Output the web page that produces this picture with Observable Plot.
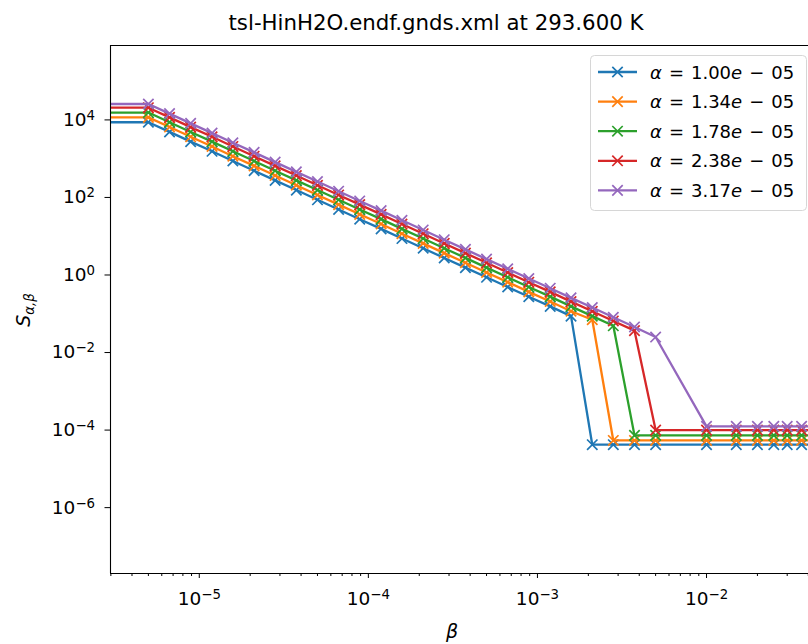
<!DOCTYPE html>
<html><head><meta charset="utf-8">
<script src="https://cdn.jsdelivr.net/npm/d3@7"></script>
<script src="https://cdn.jsdelivr.net/npm/@observablehq/plot@0.6"></script>
<style>
body{margin:0;background:#fff;}
#wrap{position:relative;width:808px;height:644px;overflow:hidden;background:#fff;}
</style></head><body><div id="wrap"></div>
<script>
// beta grid (0 first; log spaced then linear tail)
const beta = [0, 5.00e-6, 6.67e-6, 8.89e-6, 1.19e-5, 1.58e-5, 2.11e-5, 2.81e-5, 3.75e-5,
  5.00e-5, 6.67e-5, 8.89e-5, 1.19e-4, 1.58e-4, 2.11e-4, 2.81e-4, 3.75e-4,
  5.00e-4, 6.67e-4, 8.89e-4, 1.19e-3, 1.58e-3, 2.11e-3, 2.81e-3, 3.75e-3, 5.00e-3,
  0.010, 0.015, 0.020, 0.025, 0.030, 0.0365, 0.045, 0.055];
const alphaLabels = ["1.00", "1.34", "1.78", "2.38", "3.17"];
const colors = ["#1f77b4", "#ff7f0e", "#2ca02c", "#d62728", "#9467bd"];
const sA1 = [8710, 8710, 4900, 2750, 1550, 871, 490, 275, 155, 87.1, 49.0, 27.5, 15.5, 8.71, 4.90, 2.75, 1.55,
  0.871, 0.490, 0.275, 0.155, 0.0871, 4.2e-5, 4.2e-5, 4.2e-5, 4.2e-5,
  4.2e-5, 4.2e-5, 4.2e-5, 4.2e-5, 4.2e-5, 4.2e-5, 4.2e-5, 4.2e-5];
const sA2 = [11600, 11600, 6540, 3670, 2070, 1160, 654, 367, 207, 116, 65.4, 36.7, 20.7, 11.6, 6.54, 3.67, 2.07,
  1.16, 0.654, 0.367, 0.207, 0.116, 0.070, 5.4e-5, 5.4e-5, 5.4e-5,
  5.4e-5, 5.4e-5, 5.4e-5, 5.4e-5, 5.4e-5, 5.4e-5, 5.4e-5, 5.4e-5];
const sA3 = [15500, 15500, 8710, 4890, 2760, 1550, 871, 489, 276, 155, 87.1, 48.9, 27.6, 15.5, 8.71, 4.89, 2.76,
  1.55, 0.871, 0.489, 0.276, 0.155, 0.0871, 0.049, 7.3e-5, 7.3e-5,
  7.3e-5, 7.3e-5, 7.3e-5, 7.3e-5, 7.3e-5, 7.3e-5, 7.3e-5, 7.3e-5];
const sA4 = [20650, 20650, 11600, 6520, 3670, 2065, 1160, 652, 367, 206, 116, 65.2, 36.7, 20.6, 11.6, 6.52, 3.67,
  2.06, 1.16, 0.652, 0.367, 0.206, 0.116, 0.0652, 0.0367, 1.0e-4,
  1.0e-4, 1.0e-4, 1.0e-4, 1.0e-4, 1.0e-4, 1.0e-4, 1.0e-4, 1.0e-4];
const sA5 = [25700, 25700, 14500, 8130, 4570, 2570, 1450, 813, 457, 257, 145, 81.3, 45.7, 25.7, 14.5, 8.13, 4.57,
  2.57, 1.45, 0.813, 0.457, 0.257, 0.145, 0.0813, 0.0457, 0.0251,
  1.25e-4, 1.25e-4, 1.25e-4, 1.25e-4, 1.25e-4, 1.25e-4, 1.25e-4, 1.25e-4];
const seriesValues = [sA1, sA2, sA3, sA4, sA5];
const xMajor = [1e-5, 1e-4, 1e-3, 1e-2];
const yMajor = [1e-6, 1e-4, 1e-2, 1e0, 1e2, 1e4];
const titleText = "tsl-HinH2O.endf.gnds.xml at 293.600 K";

const xDomain = [2.985e-6, 0.0401];
const yDomain = [2.0e-8, 8.3e5];
const BETA_ZERO = 1e-9; // beta = 0 is clipped like matplotlib's log axis

const xMinor = [];
for (let e = -6; e <= -2; e++) for (let m = 2; m <= 9; m++) {
  const v = m * Math.pow(10, e);
  if (v > xDomain[0] && v < xDomain[1]) xMinor.push(v);
}

const marks = [];
seriesValues.forEach((vals, i) => {
  const rows = vals.map((s, j) => ({b: beta[j] === 0 ? BETA_ZERO : beta[j], s, zero: beta[j] === 0}));
  marks.push(Plot.line(rows, {x: "b", y: "s", stroke: colors[i], strokeWidth: 2.3, clip: true}));
  marks.push(Plot.dot(rows.filter(d => !d.zero), {x: "b", y: "s", symbol: "times", r: 4.8, stroke: colors[i], strokeWidth: 1.7, clip: true}));
});

const expFmt = d => "10^" + Math.round(Math.log10(d));
const chart = Plot.plot({
  width: 808, height: 644,
  marginLeft: 110, marginRight: 0, marginTop: 45, marginBottom: 71,
  style: {fontFamily: '"DejaVu Sans", sans-serif', fontSize: "18.5px", color: "#000", background: "#fff"},
  x: {type: "log", domain: xDomain},
  y: {type: "log", domain: yDomain},
  marks: [
    Plot.axisX({ticks: xMinor, tickSize: 3, tickFormat: () => "", label: null}),
    Plot.axisX({ticks: xMajor, tickSize: 5, tickPadding: 13, tickFormat: expFmt, label: null}),
    Plot.axisY({ticks: yMajor, tickSize: 5.5, tickPadding: 10, tickFormat: expFmt, label: null}),
    ...marks,
    Plot.ruleX([xDomain[0]], {stroke: "#000", strokeWidth: 1.1}),
    Plot.ruleY([yDomain[0]], {stroke: "#000", strokeWidth: 1.1}),
    Plot.ruleY([yDomain[1]], {stroke: "#000", strokeWidth: 1.1})
  ]
});
document.getElementById("wrap").appendChild(chart);

const svg = d3.select(chart);
// superscript exponents on tick labels
svg.selectAll("text").each(function() {
  const t = d3.select(this);
  if (t.selectAll("tspan").size() > 0) {
    t.selectAll("tspan").each(function() { fix(d3.select(this)); });
  } else fix(t);
});
function fix(t) {
  const s = t.text();
  const m = /^10\^(-?\d+)$/.exec(s);
  if (!m) return;
  t.text("10");
  t.append("tspan").attr("dy", "-0.45em").attr("font-size", "0.72em").text(m[1].replace("-", "\u2212"));
}

// title
svg.append("text").attr("x", 436).attr("y", 30).attr("text-anchor", "middle")
  .attr("font-size", 21.3).attr("fill", "#000").text(titleText);
// x label
svg.append("text").attr("x", 452).attr("y", 638).attr("text-anchor", "middle")
  .attr("font-size", 19).attr("font-style", "italic").attr("fill", "#000").text("β");
// y label
const yl = svg.append("text").attr("transform", "translate(30,310) rotate(-90)").attr("text-anchor", "middle")
  .attr("font-size", 19).attr("fill", "#000");
yl.append("tspan").attr("font-style", "italic").text("S");
yl.append("tspan").attr("font-style", "italic").attr("font-size", "0.7em").attr("dy", "0.3em").text("α,β");

// legend
const lg = svg.append("g");
lg.append("rect").attr("x", 590.5).attr("y", 55.5).attr("width", 216).attr("height", 155).attr("rx", 4)
  .attr("fill", "#fff").attr("fill-opacity", 0.8).attr("stroke", "#d6d6d6");
const timesPath = d3.symbol(d3.symbolTimes, Math.PI * 4.8 * 4.8)();
alphaLabels.forEach((a, i) => {
  const y = 72 + i * 29.6;
  lg.append("line").attr("x1", 598).attr("x2", 637).attr("y1", y).attr("y2", y)
    .attr("stroke", colors[i]).attr("stroke-width", 2.3);
  lg.append("path").attr("d", timesPath).attr("transform", `translate(617.5,${y})`)
    .attr("fill", "none").attr("stroke", colors[i]).attr("stroke-width", 1.7);
  const t = lg.append("text").attr("x", 650).attr("y", y + 6.5).attr("font-size", 18)
    .attr("text-anchor", "start").attr("fill", "#000");
  t.append("tspan").attr("font-style", "italic").text("α");
  t.append("tspan").attr("dx", 7).text("=");
  t.append("tspan").attr("dx", 7).text(a);
  t.append("tspan").attr("font-style", "italic").text("e");
  t.append("tspan").attr("dx", 7).text("\u2212");
  t.append("tspan").attr("dx", 7).text("05");
});
</script></body></html>
